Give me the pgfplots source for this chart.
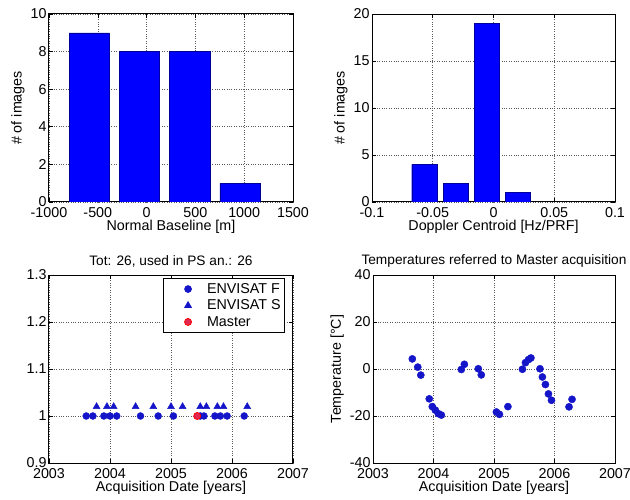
\documentclass[border=0pt]{standalone}
\usepackage{fontspec}
\setmainfont{Liberation Sans}
\usepackage{pgfplots}
\pgfplotsset{compat=1.18}
\definecolor{mblue}{RGB}{0,0,255}
\definecolor{mk}{RGB}{20,20,200}
\definecolor{master}{RGB}{225,40,80}
\newcommand{\lf}{\fontsize{14.3}{16}\selectfont}
\newcommand{\tf}{\fontsize{13.7}{15}\selectfont}
\pgfplotsset{
  mstyle/.style={
    scale only axis, width=244pt, height=188pt,
    axis line style={black, line width=1pt},
    tick align=inside, major tick length=4pt,
    tick style={black, line width=0.6pt},
    xtick pos=both, ytick pos=both,
    grid=major, grid style={dotted, black!65, line width=0.6pt},
    every tick label/.append style={font=\lf},
    xticklabel style={yshift=-2pt},
    yticklabel style={xshift=1pt},
    label style={font=\lf},
    title style={font=\tf, yshift=-2pt},
    xlabel style={yshift=4pt},
    ylabel style={yshift=-1pt},
    scaled ticks=false,
  },
  barstyle/.style={ybar, bar shift=0pt, fill=mblue, draw=blue!60!black, line width=0.4pt},
}
\begin{document}
\begin{tikzpicture}
\useasboundingbox (0pt,0pt) rectangle (630pt,499pt);
% top left
\begin{axis}[mstyle, at={(49pt,297pt)}, anchor=south west,
  xmin=-1000, xmax=1500, ymin=0, ymax=10,
  xtick={-1000,-500,0,500,1000,1500},
  xticklabels={-1000,-500,0,500,1000,1500},
  ytick={0,2,4,6,8,10}, yticklabels={0,2,4,6,8,10},
  xlabel={Normal Baseline [m]}, ylabel={\# of images}]
\addplot[barstyle, bar width=412] coordinates {(-588,9) (-73,8) (442,8) (957,1)};
\end{axis}
% top right
\begin{axis}[mstyle, width=243pt, at={(372pt,297pt)}, anchor=south west,
  xmin=-0.1, xmax=0.1, ymin=0, ymax=20,
  xtick={-0.1,-0.05,0,0.05,0.1},
  xticklabels={-0.1,-0.05,0,0.05,0.1},
  ytick={0,5,10,15,20}, yticklabels={0,5,10,15,20},
  xlabel={Doppler Centroid [Hz/PRF]}, ylabel={\# of images}]
\addplot[barstyle, bar width=0.0206] coordinates {(-0.0570,4) (-0.0312,2) (-0.0055,19) (0.0203,1)};
\end{axis}
% bottom left
\begin{axis}[mstyle, at={(49pt,36pt)}, anchor=south west,
  xmin=2003, xmax=2007, ymin=0.9, ymax=1.3,
  xtick={2003,2004,2005,2006,2007},
  xticklabels={2003,2004,2005,2006,2007},
  ytick={0.9,1,1.1,1.2,1.3}, yticklabels={0.9,1,1.1,1.2,1.3},
  xlabel={Acquisition Date [years]},
  title={Tot: 26, used in PS an.: 26},
  legend style={at={(1,1)}, anchor=north east, xshift=-8pt, yshift=-3pt,
    draw=black, line width=0.6pt, font=\lf, row sep=1pt,
    inner xsep=2pt, inner ysep=3pt},
  legend cell align=left,
  legend image code/.code={\fill[white, opacity=0] (0pt,-3pt) rectangle (40pt,3pt);
    \path[#1,mark repeat=2,mark phase=2] plot coordinates {(0pt,0pt) (23pt,0pt) (40pt,0pt)};}]
\addplot[draw=none, mark=*, mark size=3.5pt, mark options={draw=mk, fill=mk}] coordinates {
(2003.61,1) (2003.72,1) (2003.90,1) (2004.00,1) (2004.11,1) (2004.50,1)
(2004.79,1) (2005.04,1) (2005.48,1) (2005.54,1) (2005.72,1) (2005.81,1)
(2005.92,1) (2006.20,1)};
\addlegendentry{ENVISAT F}
\addplot[draw=none, mark=triangle*, mark size=4pt, mark options={draw=mk, fill=mk}] coordinates {
(2003.78,1.02) (2003.95,1.02) (2004.06,1.02) (2004.42,1.02) (2004.71,1.02)
(2005.00,1.02) (2005.19,1.02) (2005.48,1.02) (2005.58,1.02) (2005.76,1.02)
(2005.86,1.02) (2006.25,1.02)};
\addlegendentry{ENVISAT S}
\addplot[draw=none, mark=*, mark size=3.5pt, mark options={draw=red, fill=master, line width=0.8pt}] coordinates {(2005.43,1)};
\addlegendentry{Master}
\end{axis}
% bottom right
\begin{axis}[mstyle, width=242pt, at={(373pt,36pt)}, anchor=south west,
  xmin=2003, xmax=2007, ymin=-40, ymax=40,
  xtick={2003,2004,2005,2006,2007},
  xticklabels={2003,2004,2005,2006,2007},
  ytick={-40,-20,0,20,40}, yticklabels={-40,-20,0,20,40},
  xlabel={Acquisition Date [years]}, ylabel={Temperature [°C]},
  title={Temperatures referred to Master acquisition}]
\addplot[only marks, mark=*, mark size=3.6pt, color=mk] coordinates {
(2003.65,4.3) (2003.74,0.8) (2003.79,-2.6) (2003.93,-12.7) (2003.98,-16.0)
(2004.03,-17.5) (2004.08,-19.0) (2004.13,-19.6) (2004.46,-0.2) (2004.51,2.0)
(2004.74,0.1) (2004.79,-2.5) (2005.04,-18.3) (2005.09,-19.3) (2005.23,-16.0)
(2005.47,-0.1) (2005.52,2.7) (2005.57,4.0) (2005.61,4.7) (2005.76,0.1)
(2005.80,-3.4) (2005.85,-6.6) (2005.90,-10.6) (2005.95,-13.3) (2006.24,-16.1)
(2006.29,-12.9)};
\end{axis}
\end{tikzpicture}
\end{document}
